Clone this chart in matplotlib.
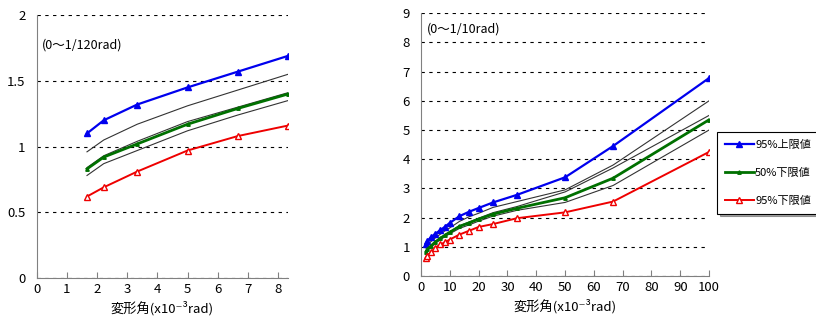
import matplotlib.pyplot as plt

plt.rcParams['font.family'] = ['Noto Sans CJK JP', 'DejaVu Sans']

# deformation angle (x10^-3 rad)
x_small = [1.667, 2.222, 3.333, 5.0, 6.667, 8.333]
x_all = [1.667, 2.222, 3.333, 5.0, 6.667, 8.333, 10.0, 13.33, 16.67, 20.0, 25.0, 33.33, 50.0, 66.67, 100.0]

upper95 = [1.10, 1.20, 1.32, 1.45, 1.57, 1.69, 1.82, 2.05, 2.20, 2.33, 2.52, 2.78, 3.38, 4.45, 6.78]
lower50 = [0.83, 0.92, 1.02, 1.17, 1.29, 1.40, 1.50, 1.70, 1.82, 1.95, 2.12, 2.32, 2.68, 3.35, 5.35]
lower95 = [0.62, 0.69, 0.81, 0.97, 1.08, 1.16, 1.25, 1.42, 1.55, 1.68, 1.78, 1.98, 2.18, 2.55, 4.25]

# thin reference curves
thin_a = [0.96, 1.05, 1.17, 1.31, 1.43, 1.55, 1.65, 1.87, 2.03, 2.15, 2.35, 2.55, 2.95, 3.80, 6.00]
thin_b = [0.84, 0.93, 1.04, 1.19, 1.30, 1.41, 1.52, 1.72, 1.85, 1.98, 2.17, 2.38, 2.88, 3.70, 5.50]
thin_c = [0.78, 0.87, 0.97, 1.12, 1.24, 1.35, 1.45, 1.63, 1.75, 1.88, 2.05, 2.25, 2.52, 3.10, 5.00]

labels = ['95%上限値', '50%下限値', '95%下限値']

fig = plt.figure(figsize=(8.16, 3.29), dpi=100)
ax1 = fig.add_axes([0.045, 0.155, 0.308, 0.799])
ax2 = fig.add_axes([0.516, 0.161, 0.353, 0.799])


def draw(ax, n):
    xs = x_all[:n]
    for t in (thin_a, thin_b, thin_c):
        ax.plot(xs, t[:n], color='#333333', lw=0.8, zorder=2)
    h1, = ax.plot(xs, upper95[:n], color='#0000ee', lw=1.6, marker='^', ms=5, zorder=3)
    h2, = ax.plot(xs, lower50[:n], color='#007000', lw=2.0, marker='^', ms=2.5, zorder=3)
    h3, = ax.plot(xs, lower95[:n], color='#ee0000', lw=1.4, marker='^', ms=5,
                  mfc='white', mec='#ee0000', zorder=3)
    for s in ('top', 'right'):
        ax.spines[s].set_visible(False)
    for s in ('left', 'bottom'):
        ax.spines[s].set_color('#808080')
    ax.grid(axis='y', color='black', ls=(0, (3, 4)), lw=0.8)
    ax.set_axisbelow(True)
    ax.tick_params(axis='y', length=0, labelsize=9.5, pad=8)
    ax.tick_params(axis='x', direction='in', length=4, color='#808080', labelsize=9.5)
    ax.set_xlabel('変形角(x10⁻³rad)', fontsize=9.5, labelpad=4)
    return h1, h2, h3


draw(ax1, 6)
ax1.set_xlim(0, 8.333)
ax1.set_ylim(0, 2)
ax1.set_xticks(range(0, 9))
ax1.set_yticks([0, 0.5, 1, 1.5, 2])
ax1.set_yticklabels(['0', '0.5', '1', '1.5', '2'])
ax1.text(0.02, 0.885, '(0～1/120rad)', transform=ax1.transAxes, fontsize=9, va='center')

handles = draw(ax2, len(x_all))
ax2.set_xlim(0, 100)
ax2.set_ylim(0, 9)
ax2.set_xticks(range(0, 101, 10))
ax2.set_yticks(range(0, 10))
ax2.text(0.02, 0.94, '(0～1/10rad)', transform=ax2.transAxes, fontsize=9, va='center')

leg = fig.legend(handles, labels, loc='upper left', bbox_to_anchor=(0.879, 0.598),
                 fontsize=8, frameon=True, fancybox=False, shadow=True,
                 handlelength=2.6, labelspacing=1.6, borderpad=0.7, handletextpad=0.1,
                 borderaxespad=0)
leg.get_frame().set_edgecolor('black')
leg.get_frame().set_linewidth(0.8)

fig.savefig('out.png', dpi=100)
